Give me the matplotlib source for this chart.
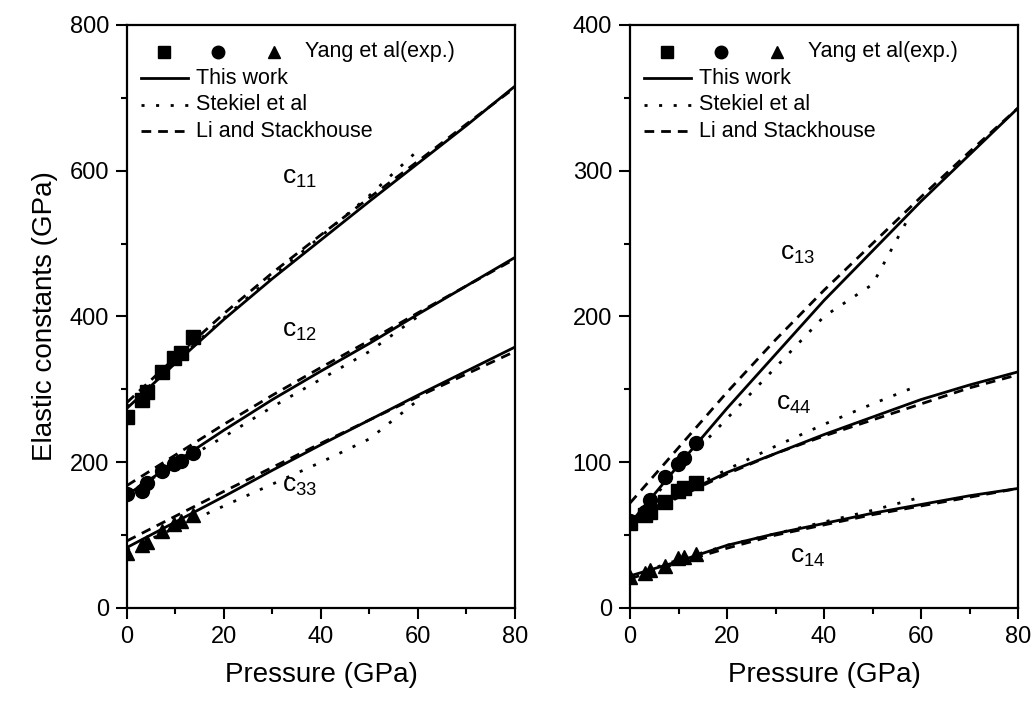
import matplotlib
matplotlib.use("Agg")
import matplotlib.pyplot as plt
from matplotlib.ticker import MultipleLocator

plt.rcParams['font.family'] = ['Liberation Sans', 'DejaVu Sans']
plt.rcParams['mathtext.fontset'] = 'custom'
plt.rcParams['mathtext.rm'] = 'Liberation Sans'
plt.rcParams['lines.scale_dashes'] = False

# experimental pressures (Yang et al)
P_exp = [0, 3.0, 4.2, 7.2, 9.8, 11.1, 13.7]
c11_exp = [262, 285, 296, 324, 343, 350, 372]
c12_exp = [157, 161, 172, 188, 198, 202, 212]
c33_exp = [76, 87, 90, 106, 115, 119, 128]
c13_exp = [60, 66, 74, 90, 99, 103, 113]
c44_exp = [58, 64, 66, 73, 80, 82, 86]
c14_exp = [21, 24, 26, 29, 34, 35, 37]

# this work and Li & Stackhouse
P_th = [0, 10, 20, 30, 40, 50, 60, 70, 80]
c11_this = [274, 336, 396, 452, 505, 558, 610, 662, 716]
c11_li = [282, 344, 404, 460, 512, 563, 613, 664, 714]
c12_this = [155, 200, 244, 286, 325, 363, 403, 442, 481]
c12_li = [168, 210, 252, 292, 330, 367, 405, 442, 479]
c33_this = [83, 118, 153, 189, 224, 258, 292, 325, 358]
c33_li = [92, 126, 160, 193, 226, 258, 290, 321, 352]
c13_this = [58, 98, 137, 174, 211, 245, 279, 311, 343]
c13_li = [72, 110, 148, 184, 218, 250, 282, 313, 343]
c44_this = [60, 77, 93, 106, 119, 131, 143, 153, 162]
c44_li = [58, 76, 92, 106, 118, 129, 140, 151, 160]
c14_this = [22, 32, 43, 51, 58, 65, 71, 77, 82]
c14_li = [20, 31, 41, 50, 57, 64, 70, 76, 82]

# Stekiel et al
P_st = [0, 10, 20, 30, 40, 50, 60]
c11_st = [276, 338, 398, 455, 510, 566, 628]
c12_st = [158, 196, 235, 276, 314, 352, 400]
c33_st = [80, 110, 140, 170, 200, 232, 285]
P_st13 = [0, 10, 20, 30, 40, 50, 57]
c13_st = [58, 95, 130, 165, 200, 222, 265]
P_st44 = [0, 10, 20, 30, 40, 50, 59]
c44_st = [60, 78, 95, 111, 126, 140, 152]
c14_st = [22, 33, 43, 51, 59, 67, 76]

DOT = (2.2, 8.3)
DASH = (7, 5)
LW = 2.0

fig = plt.figure(figsize=(10.33, 7.01), dpi=100)
ax1 = fig.add_axes([0.1229, 0.1327, 0.3756, 0.8317])
ax2 = fig.add_axes([0.6099, 0.1327, 0.3756, 0.8317])


def draw(ax, exps, ths, lis, sts, markers):
    for (px, v), m in zip(exps, markers):
        ax.plot(px, v, m, color='black', ms=10, ls='none')
    for v in ths:
        ax.plot(P_th, v, '-', color='black', lw=LW)
    for v in lis:
        ax.plot(P_th, v, color='black', lw=LW, dashes=DASH)
    for px, v in sts:
        ax.plot(px, v, color='black', lw=LW, dashes=DOT)


draw(ax1, [(P_exp, c11_exp), (P_exp, c12_exp), (P_exp, c33_exp)],
     [c11_this, c12_this, c33_this], [c11_li, c12_li, c33_li],
     [(P_st, c11_st), (P_st, c12_st), (P_st, c33_st)], ['s', 'o', '^'])
draw(ax2, [(P_exp, c13_exp), (P_exp, c44_exp), (P_exp, c14_exp)],
     [c13_this, c44_this, c14_this], [c13_li, c44_li, c14_li],
     [(P_st13, c13_st), (P_st44, c44_st), (P_st, c14_st)], ['o', 's', '^'])

ax1.set_ylim(0, 800)
ax2.set_ylim(0, 400)
ax1.yaxis.set_major_locator(MultipleLocator(200))
ax1.yaxis.set_minor_locator(MultipleLocator(100))
ax2.yaxis.set_major_locator(MultipleLocator(100))
ax2.yaxis.set_minor_locator(MultipleLocator(50))

for ax in (ax1, ax2):
    ax.set_xlim(0, 80)
    ax.xaxis.set_major_locator(MultipleLocator(20))
    ax.xaxis.set_minor_locator(MultipleLocator(10))
    ax.tick_params(which='major', direction='out', length=8, width=1.5,
                   labelsize=17, pad=5)
    ax.tick_params(which='minor', direction='out', length=4.5, width=1.5)
    for s in ax.spines.values():
        s.set_linewidth(1.6)
    ax.set_xlabel('Pressure (GPa)', fontsize=20, labelpad=10)

    # legend, Origin style
    tr = ax.transAxes
    ys = [0.954, 0.909, 0.863, 0.818]
    for xm, m in zip([0.095, 0.235, 0.378], ['s', 'o', '^']):
        ax.plot([xm], [ys[0]], m, color='black', ms=9, transform=tr,
                clip_on=False)
    ax.text(0.458, ys[0], 'Yang et al(exp.)', transform=tr, fontsize=15.5,
            va='center')
    ax.plot([0.035, 0.158], [ys[1]] * 2, '-', color='black', lw=LW, transform=tr)
    ax.plot([0.035, 0.158], [ys[2]] * 2, color='black', lw=LW, dashes=DOT,
            transform=tr)
    ax.plot([0.035, 0.158], [ys[3]] * 2, color='black', lw=LW, dashes=DASH,
            transform=tr)
    for y, t in zip(ys[1:], ['This work', 'Stekiel et al', 'Li and Stackhouse']):
        ax.text(0.177, y, t, transform=tr, fontsize=15.5, va='center')

ax1.set_ylabel('Elastic constants (GPa)', fontsize=20, labelpad=8)

lab = dict(fontsize=19, ha='left', va='baseline')
ax1.text(32, 582, r'$\mathregular{c_{11}}$', **lab)
ax1.text(32, 372, r'$\mathregular{c_{12}}$', **lab)
ax1.text(32, 160, r'$\mathregular{c_{33}}$', **lab)
ax2.text(31, 239, r'$\mathregular{c_{13}}$', **lab)
ax2.text(30, 136, r'$\mathregular{c_{44}}$', **lab)
ax2.text(33, 31, r'$\mathregular{c_{14}}$', **lab)

plt.savefig('out.png', dpi=100)
plt.close()
